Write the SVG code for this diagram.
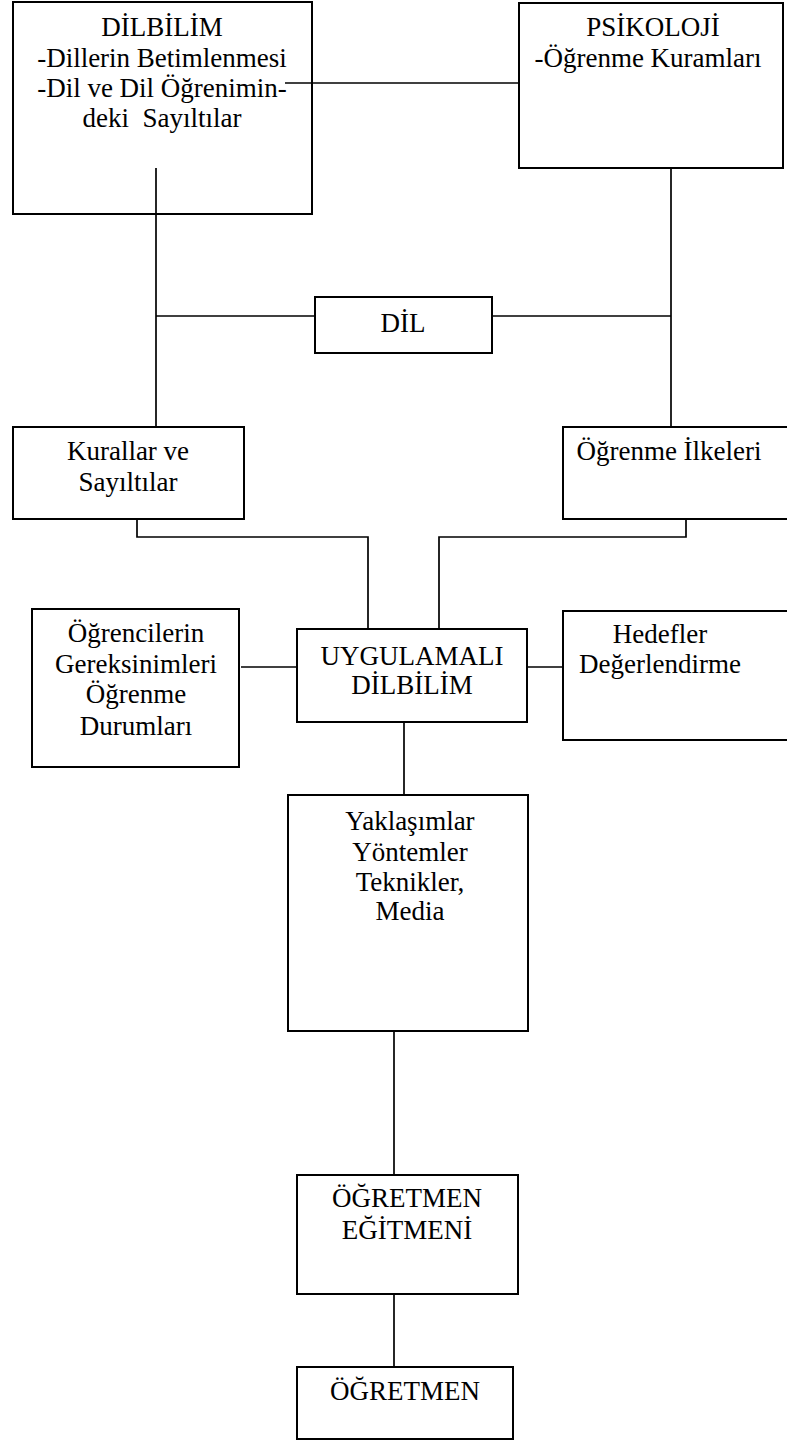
<svg xmlns="http://www.w3.org/2000/svg" width="787" height="1441" viewBox="0 0 787 1441">
  <style>
    .box { fill: #ffffff; stroke: #000000; stroke-width: 2; }
    .wire { fill: none; stroke: #000000; stroke-width: 1.7; }
    .lbl { font-family: "Liberation Serif", "Times New Roman", serif; font-size: 27px; fill: #000000; text-anchor: middle; }
  </style>
  <rect width="787" height="1441" fill="#ffffff"/>

  <!-- connectors -->
  <g id="connectors">
    <line class="wire" x1="285" y1="83" x2="519" y2="83"/>
    <line class="wire" x1="156" y1="168" x2="156" y2="427"/>
    <line class="wire" x1="156" y1="316" x2="315" y2="316"/>
    <line class="wire" x1="492" y1="316" x2="671" y2="316"/>
    <line class="wire" x1="671" y1="168" x2="671" y2="427"/>
    <polyline class="wire" points="137,519 137,537 368,537 368,629"/>
    <polyline class="wire" points="686,519 686,537 439,537 439,629"/>
    <line class="wire" x1="241" y1="667" x2="297" y2="667"/>
    <line class="wire" x1="527" y1="667" x2="563" y2="667"/>
    <line class="wire" x1="404" y1="722" x2="404" y2="795"/>
    <line class="wire" x1="394" y1="1031" x2="394" y2="1175"/>
    <line class="wire" x1="394" y1="1294" x2="394" y2="1367"/>
  </g>

  <!-- the top-left box is unfilled so the connector into its text stays visible -->
  <g id="dilbilim">
    <rect class="box" x="13" y="2" width="299" height="212" style="fill:none"/>
    <text class="lbl" x="162" y="36">DİLBİLİM</text>
    <text class="lbl" x="162" y="67">-Dillerin Betimlenmesi</text>
    <text class="lbl" x="162" y="97">-Dil ve Dil Öğrenimin-</text>
    <text class="lbl" x="162" y="127" xml:space="preserve">deki  Sayıltılar</text>
  </g>

  <g id="psikoloji">
    <rect class="box" x="519" y="3" width="264" height="165"/>
    <text class="lbl" x="653" y="36">PSİKOLOJİ</text>
    <text class="lbl" x="648" y="67">-Öğrenme Kuramları</text>
  </g>

  <g id="dil">
    <rect class="box" x="315" y="297" width="177" height="56"/>
    <text class="lbl" x="403" y="332">DİL</text>
  </g>

  <g id="kurallar">
    <rect class="box" x="13" y="427" width="231" height="92"/>
    <text class="lbl" x="128" y="460">Kurallar ve</text>
    <text class="lbl" x="128" y="491">Sayıltılar</text>
  </g>

  <g id="ogrenme-ilkeleri">
    <rect class="box" x="563" y="427" width="240" height="92"/>
    <text class="lbl" x="669" y="460">Öğrenme İlkeleri</text>
  </g>

  <g id="ogrenciler">
    <rect class="box" x="32" y="609" width="207" height="158"/>
    <text class="lbl" x="136" y="642">Öğrencilerin</text>
    <text class="lbl" x="136" y="673">Gereksinimleri</text>
    <text class="lbl" x="136" y="703">Öğrenme</text>
    <text class="lbl" x="136" y="735">Durumları</text>
  </g>

  <g id="uygulamali-dilbilim">
    <rect class="box" x="297" y="629" width="230" height="93"/>
    <text class="lbl" x="412" y="665">UYGULAMALI</text>
    <text class="lbl" x="412" y="694">DİLBİLİM</text>
  </g>

  <g id="hedefler">
    <rect class="box" x="563" y="611" width="240" height="129"/>
    <text class="lbl" x="660" y="643">Hedefler</text>
    <text class="lbl" x="660" y="673">Değerlendirme</text>
  </g>

  <g id="yaklasimlar">
    <rect class="box" x="288" y="795" width="240" height="236"/>
    <text class="lbl" x="410" y="830">Yaklaşımlar</text>
    <text class="lbl" x="410" y="861">Yöntemler</text>
    <text class="lbl" x="410" y="891">Teknikler,</text>
    <text class="lbl" x="410" y="920">Media</text>
  </g>

  <g id="ogretmen-egitmeni">
    <rect class="box" x="297" y="1175" width="221" height="119"/>
    <text class="lbl" x="407" y="1207">ÖĞRETMEN</text>
    <text class="lbl" x="407" y="1239">EĞİTMENİ</text>
  </g>

  <g id="ogretmen">
    <rect class="box" x="297" y="1367" width="216" height="72"/>
    <text class="lbl" x="405" y="1400">ÖĞRETMEN</text>
  </g>
</svg>
